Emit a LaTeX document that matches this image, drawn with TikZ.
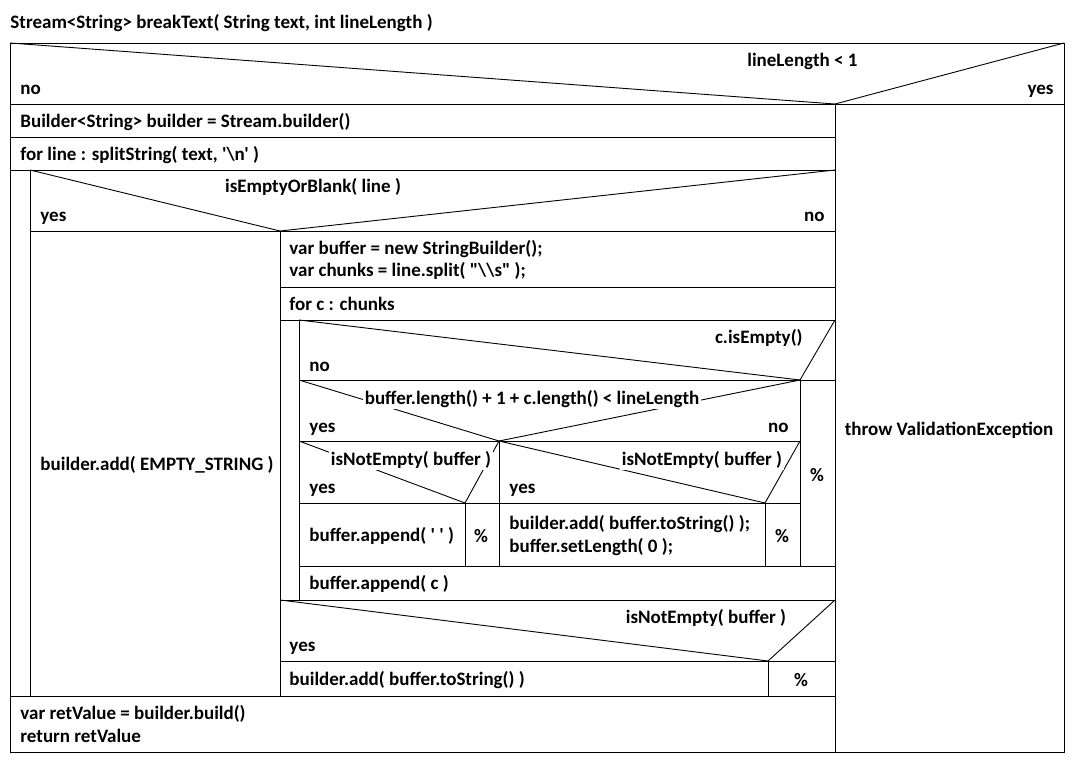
\documentclass[tikz,border=0pt]{standalone}
\usepackage{fontspec}
\newfontfamily\diagfont{Carlito}
\begin{document}
\begin{tikzpicture}[x=1pt,y=-1pt,line width=0.9pt,
  every node/.style={font=\diagfont\fontsize{19}{24}\selectfont\bfseries,inner sep=0pt,yshift=-1.5pt},
  lt/.style={anchor=base west},
  rt/.style={anchor=base east},
  ct/.style={anchor=base},
  cond/.style={anchor=base,fill=white,inner sep=1.5pt},
  condr/.style={anchor=base east,fill=white,inner sep=1.5pt}]
\useasboundingbox (0,0) rectangle (1075,763);
% title
\node[lt] (title) at (10,27) {Stream<String> breakText( String text, int lineLength )};
% outer frame
\draw (10,43) rectangle (1064,752);
% top decision
\draw (10,43) -- (835,104) -- (1064,43);
\draw (10,104) -- (1064,104);
\draw (835,104) -- (835,752);
\node[rt] (c1) at (858,65) {lineLength < 1};
\node[lt] (c1no) at (20,93) {no};
\node[rt] (c1yes) at (1054,93) {yes};
\node[ct] (throw) at (949,434) {throw ValidationException};
% sequence
\draw (10,137) -- (835,137);
\draw (10,170) -- (835,170);
\node[lt] (s1) at (20,126) {Builder<String> builder = Stream.builder()};
\node[lt] (loop1) at (20,159) {for line : splitString( text, '\textbackslash n' )};
\draw (30,170) -- (30,696);
\draw (10,696) -- (835,696);
% isEmptyOrBlank
\draw (30,170) -- (280,231) -- (835,170);
\draw (30,231) -- (835,231);
\draw (280,231) -- (280,696);
\node[ct] (c2) at (313,191) {isEmptyOrBlank( line )};
\node[lt] (c2yes) at (40,220) {yes};
\node[rt] (c2no) at (825,220) {no};
\node[lt] (s2) at (40,469) {builder.add( EMPTY\_STRING )};
% right branch
\draw (280,287) -- (835,287);
\draw (280,320) -- (835,320);
\node[lt] (s3a) at (289,253) {var buffer = new StringBuilder();};
\node[lt] (s3b) at (289,275) {var chunks = line.split( "\textbackslash\textbackslash s" );};
\node[lt] (loop2) at (289,309) {for c : chunks};
\draw (299,320) -- (299,600);
\draw (280,600) -- (835,600);
% c.isEmpty
\draw (299,320) -- (800,380) -- (835,320);
\draw (299,380) -- (835,380);
\draw (800,380) -- (800,566);
\node[rt] (c3) at (803,342) {c.isEmpty()};
\node[lt] (c3no) at (309,370) {no};
\node[ct] (p1) at (817,480) {\%};
% buffer.length decision
\draw (299,380) -- (499,441) -- (800,380);
\draw (299,441) -- (800,441);
\draw (499,441) -- (499,566);
\node[cond] (c4) at (532,403) {buffer.length() + 1 + c.length() < lineLength};
\node[lt] (c4yes) at (309,431) {yes};
\node[rt] (c4no) at (789,431) {no};
% left isNotEmpty
\draw (299,441) -- (465,503) -- (499,441);
\draw (299,503) -- (800,503);
\draw (465,503) -- (465,566);
\node[cond] (c5) at (411,464) {isNotEmpty( buffer )};
\node[lt] (c5yes) at (309,492) {yes};
\node[lt] (s4) at (309,540) {buffer.append( ' ' )};
\node[ct] (p2) at (481,541) {\%};
% right isNotEmpty
\draw (499,441) -- (765,503) -- (800,441);
\draw (765,503) -- (765,566);
\node[condr] (c6) at (784,464) {isNotEmpty( buffer )};
\node[lt] (c6yes) at (509,492) {yes};
\node[lt] (s5a) at (509,528) {builder.add( buffer.toString() );};
\node[lt] (s5b) at (509,551) {buffer.setLength( 0 );};
\node[ct] (p3) at (782,541) {\%};
% buffer.append(c)
\draw (299,566) -- (835,566);
\node[lt] (s6) at (309,588) {buffer.append( c )};
% bottom isNotEmpty
\draw (280,600) -- (768,661) -- (835,600);
\draw (280,661) -- (835,661);
\draw (768,661) -- (768,696);
\node[condr] (c7) at (788,622) {isNotEmpty( buffer )};
\node[lt] (c7yes) at (289,650) {yes};
\node[lt] (s7) at (289,684) {builder.add( buffer.toString() )};
\node[ct] (p4) at (801,685) {\%};
% final
\node[lt] (s8a) at (20,718) {var retValue = builder.build()};
\node[lt] (s8b) at (20,741) {return retValue};
\end{tikzpicture}
\end{document}
